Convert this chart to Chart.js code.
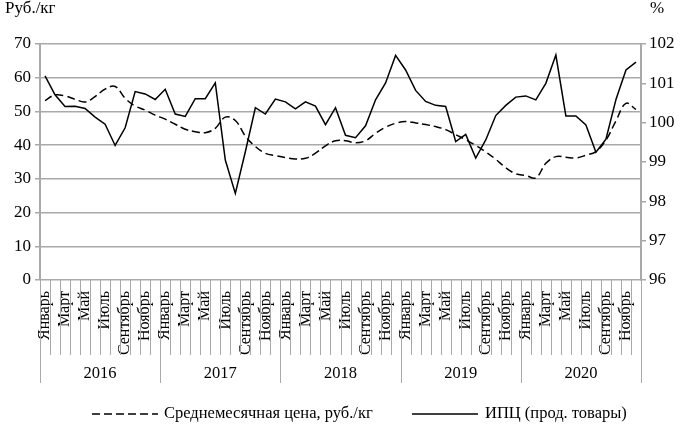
<!DOCTYPE html>
<html>
<head>
<meta charset="utf-8">
<script src="https://cdn.jsdelivr.net/npm/chart.js@4/dist/chart.umd.min.js"></script>
<style>
  body { margin: 0; background: #fff; }
  #box { width: 680px; height: 426px; position: relative; }
</style>
</head>
<body>
<div id="box"><canvas id="priceChart"></canvas></div>
<script>
// Categories
const years = ['2016', '2017', '2018', '2019', '2020'];
const months = ['Январь', 'Февраль', 'Март', 'Апрель', 'Май', 'Июнь',
                'Июль', 'Август', 'Сентябрь', 'Октябрь', 'Ноябрь', 'Декабрь'];

// Average monthly price, rub/kg (left axis)
const priceData = [
    53.2, 54.9, 54.6, 53.6, 52.8, 54.4, 56.6, 57.4, 53.9, 51.6, 50.4, 48.9,
    47.7, 46.2, 44.7, 44.0, 43.7, 45.0, 48.3, 47.3, 42.7, 39.6, 37.6, 36.9,
    36.3, 35.9, 36.1, 37.6, 39.8, 41.3, 41.3, 40.7, 41.3, 43.5, 45.3, 46.5,
    47.0, 46.6, 46.1, 45.5, 44.6, 43.1, 41.6, 39.9, 38.0, 35.8, 33.3, 31.5,
    31.0, 30.3, 34.6, 36.6, 36.4, 36.2, 37.0, 38.1, 41.5, 47.2, 52.4, 50.6
];

// CPI, food products, % (right axis)
const cpiData = [
    101.19, 100.71, 100.41, 100.42, 100.36, 100.14, 99.96, 99.42, 99.87, 100.79, 100.73, 100.59,
    100.85, 100.22, 100.16, 100.61, 100.61, 101.01, 99.05, 98.20, 99.26, 100.38, 100.22, 100.60,
    100.53, 100.35, 100.53, 100.42, 99.95, 100.38, 99.68, 99.62, 99.92, 100.58, 101.01, 101.71,
    101.34, 100.82, 100.54, 100.44, 100.41, 99.52, 99.70, 99.10, 99.56, 100.18, 100.44, 100.65,
    100.68, 100.58, 101.00, 101.72, 100.17, 100.17, 99.94, 99.25, 99.58, 100.59, 101.34, 101.54
];

const labels = [];
years.forEach(y => months.forEach(m => labels.push(m + ' ' + y)));

const serif = "'Liberation Serif', 'Times New Roman', serif";
const gridColor = '#a9a9a9';

// Month dividers, year groups, axis titles and legend
const groupAxisPlugin = {
    id: 'groupAxis',
    afterDraw(chart) {
        const ctx = chart.ctx;
        const area = chart.chartArea;
        const n = labels.length;
        const w = (area.right - area.left) / n;
        ctx.save();
        ctx.strokeStyle = gridColor;
        ctx.lineWidth = 1;
        for (let k = 0; k <= n; k++) {
            const x = Math.round(area.left + k * w) + 0.5;
            ctx.beginPath();
            ctx.moveTo(x, area.bottom);
            ctx.lineTo(x, area.bottom + (k % 12 === 0 ? 103 : 75));
            ctx.stroke();
        }
        ctx.fillStyle = '#000';
        ctx.font = '16.5px ' + serif;
        ctx.textAlign = 'center';
        ctx.textBaseline = 'middle';
        years.forEach((y, i) => {
            ctx.fillText(y, area.left + (i * 12 + 6) * w, area.bottom + 94);
        });

        ctx.font = '17px ' + serif;
        ctx.textAlign = 'left';
        ctx.fillText('Руб./кг', 5, 9);
        ctx.fillText('%', 650, 9);

        // legend
        const ly = 414;
        ctx.font = '16.5px ' + serif;
        ctx.strokeStyle = '#000';
        ctx.lineWidth = 1.5;
        ctx.setLineDash([8, 4]);
        ctx.beginPath();
        ctx.moveTo(92, ly);
        ctx.lineTo(158, ly);
        ctx.stroke();
        ctx.setLineDash([]);
        ctx.beginPath();
        ctx.moveTo(412, ly);
        ctx.lineTo(478, ly);
        ctx.stroke();
        ctx.fillText('Среднемесячная цена, руб./кг', 164, ly);
        ctx.fillText('ИПЦ (прод. товары)', 485, ly);
        ctx.restore();
    }
};

const ctx = document.getElementById('priceChart').getContext('2d');

const priceChart = new Chart(ctx, {
    type: 'line',
    data: {
        labels: labels,
        datasets: [{
            label: 'Среднемесячная цена, руб./кг',
            data: priceData,
            yAxisID: 'y',
            borderColor: '#000',
            borderWidth: 1.5,
            borderDash: [8, 4],
            tension: 0.4,
            pointRadius: 0,
            fill: false
        }, {
            label: 'ИПЦ (прод. товары)',
            data: cpiData,
            yAxisID: 'y1',
            borderColor: '#000',
            borderWidth: 1.5,
            tension: 0,
            pointRadius: 0,
            fill: false
        }]
    },
    options: {
        responsive: true,
        maintainAspectRatio: false,
        animation: false,
        layout: {
            padding: { top: 44, left: 0, right: 0, bottom: 70 }
        },
        scales: {
            x: {
                type: 'category',
                offset: true,
                grid: { display: false },
                border: { display: false },
                ticks: {
                    autoSkip: false,
                    minRotation: 90,
                    maxRotation: 90,
                    padding: 3,
                    color: '#000',
                    font: { family: serif, size: 16 },
                    callback: function(value, index) {
                        return index % 2 === 0 ? months[index % 12] : '';
                    }
                },
                afterFit(scale) { scale.height = 76; }
            },
            y: {
                position: 'left',
                min: 0,
                max: 70,
                ticks: {
                    stepSize: 10,
                    padding: 4,
                    color: '#000',
                    font: { family: serif, size: 17 }
                },
                grid: {
                    color: gridColor,
                    lineWidth: 1.5,
                    tickLength: 5,
                    tickColor: gridColor
                },
                border: { color: gridColor, width: 2 },
                afterFit(scale) { scale.width = 40; }
            },
            y1: {
                position: 'right',
                min: 96,
                max: 102,
                ticks: {
                    stepSize: 1,
                    padding: 3,
                    color: '#000',
                    font: { family: serif, size: 17 }
                },
                grid: {
                    drawOnChartArea: false,
                    tickLength: 5,
                    tickColor: gridColor,
                    lineWidth: 1.5
                },
                border: { color: gridColor, width: 2 },
                afterFit(scale) { scale.width = 39; }
            }
        },
        plugins: {
            legend: { display: false },
            tooltip: { enabled: false }
        }
    },
    plugins: [groupAxisPlugin]
});
</script>
</body>
</html>
